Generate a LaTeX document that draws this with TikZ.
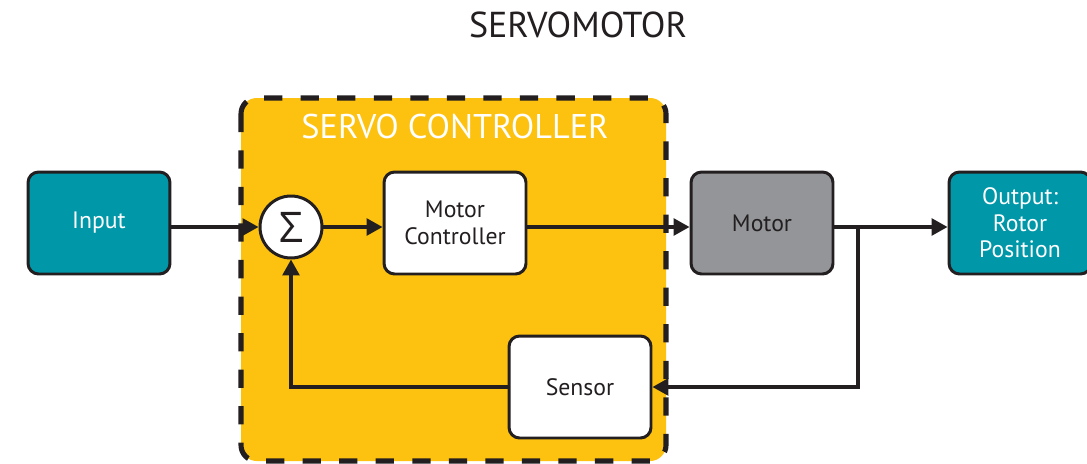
\documentclass[tikz,border=0pt]{standalone}
\usepackage{fontspec}
\setmainfont{PT Sans}
\newfontfamily\sigmafont{Open Sans}
\usetikzlibrary{arrows.meta}
\definecolor{servoyellow}{HTML}{FDC20F}
\definecolor{servoteal}{HTML}{0097A9}
\definecolor{servogray}{HTML}{939598}
\definecolor{servoink}{HTML}{231F20}
\tikzset{
  blockbox/.style={draw=servoink, line width=1.7pt, rounded corners=6pt,
    minimum width=2.84cm, minimum height=2.04cm, align=center,
    font=\fontsize{13.5}{15}\selectfont, text=servoink},
  tealbox/.style={blockbox, fill=servoteal, text=white},
  whitebox/.style={blockbox, fill=white},
  graybox/.style={blockbox, fill=servogray},
  sumnode/.style={circle, draw=servoink, line width=1.7pt, fill=white,
    minimum size=1.24cm, inner sep=0pt, font=\sigmafont\fontsize{24}{26}\selectfont, text=servoink},
  conn/.style={draw=servoink, line width=1.8pt},
  arr/.style={conn, -{Triangle[length=9pt,width=9.5pt]}},
  controllerbox/.style={draw=servoink, fill=servoyellow, line width=2.9pt,
    dash pattern=on 10.4pt off 10.4pt, rounded corners=9pt}
}
\begin{document}
\begin{tikzpicture}[x=0.02cm,y=-0.02cm]
\useasboundingbox (0,0) rectangle (1087,463);
\clip (0,0) rectangle (1087,463);
\fill[white] (0,0) rectangle (1087,463);

\node[font=\fontsize{20.5}{23}\selectfont, text=servoink] (title) at (578,25) {SERVOMOTOR};

\draw[controllerbox] (241,98) rectangle (666,461);
\node[font=\fontsize{19.5}{22}\selectfont, text=white] (ctrltitle) at (455,127) {SERVO CONTROLLER};

\node[tealbox] (input) at (99,223) {Input};
\node[sumnode] (sum) at (291,227) {Σ};
\node[whitebox] (mc) at (455,223) {Motor\\Controller};
\node[graybox] (motor) at (762,223) {Motor};
\node[tealbox] (output) at (1020,223) {Output:\\Rotor\\Position};
\node[whitebox] (sensor) at (580,387) {Sensor};
\coordinate (branch) at (858,227);

\draw[arr] (sum -| input.east) -- (sum.west);
\draw[arr] (sum.east) -- (mc.west |- sum);
\draw[arr] (mc.east |- sum) -- (motor.west |- sum);
\draw[arr] (motor.east |- sum) -- (output.west |- sum);
\draw[arr] (branch) |- (sensor.east);
\draw[arr] (sensor.west) -| (sum.south);
\end{tikzpicture}
\end{document}
